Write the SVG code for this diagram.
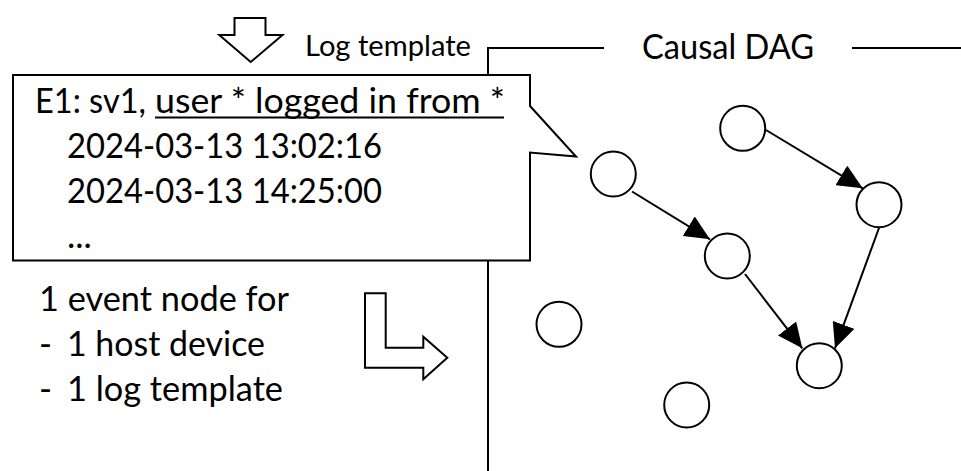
<svg xmlns="http://www.w3.org/2000/svg" width="961" height="471" viewBox="0 0 961 471">
<style>
text { font-family: Lato, "Open Sans", "Liberation Sans", sans-serif; fill: #000; }
.big { font-size: 35px; }
.small { font-size: 29.5px; }
.ln { stroke: #000; stroke-width: 2; fill: none; }
.shape { stroke: #000; stroke-width: 2; fill: #fff; stroke-linejoin: miter; }
.node { stroke: #000; stroke-width: 2; fill: #fff; }
.edge { stroke: #000; stroke-width: 2; fill: none; marker-end: url(#ah); }
</style>
<defs>
<marker id="ah" markerUnits="userSpaceOnUse" markerWidth="25" markerHeight="23" refX="25" refY="11.5" orient="auto" viewBox="0 0 25 23">
<path d="M0,0 L25,11.5 L0,23 Z" fill="#000"/>
</marker>
</defs>
<rect width="961" height="471" fill="#fff"/>

<g id="dag-frame">
<path class="ln" d="M488,471 V48 H604"/>
<line class="ln" x1="852" y1="48" x2="961" y2="48"/>
<text class="big" x="642" y="58.5" textLength="172" lengthAdjust="spacingAndGlyphs">Causal DAG</text>
</g>

<g id="down-arrow">
<path class="shape" d="M234.5,18 H265.5 V35 H282.5 L250.7,62 L219.3,35 H234.5 Z"/>
</g>

<g id="log-template-label">
<text class="small" x="305" y="56" textLength="166" lengthAdjust="spacingAndGlyphs">Log template</text>
</g>

<g id="log-callout">
<path class="shape" d="M13,75 H530 V106 L576,156.5 L530,152.5 V260.5 H13 Z"/>
<text class="big" x="35" y="113" textLength="111" lengthAdjust="spacingAndGlyphs">E1: sv1,</text>
<text class="big" x="155" y="113" textLength="350" lengthAdjust="spacingAndGlyphs">user * logged in from *</text>
<line x1="155" y1="117.5" x2="504" y2="117.5" stroke="#000" stroke-width="2"/>
<text class="big" x="67" y="158" textLength="315" lengthAdjust="spacingAndGlyphs">2024-03-13 13:02:16</text>
<text class="big" x="67" y="203" textLength="315" lengthAdjust="spacingAndGlyphs">2024-03-13 14:25:00</text>
<text class="big" x="67" y="248">...</text>
</g>

<g id="event-node-note">
<text class="big" x="39" y="311" textLength="250" lengthAdjust="spacingAndGlyphs">1 event node for</text>
<text class="big" x="39" y="356">-</text>
<text class="big" x="67" y="356" textLength="198" lengthAdjust="spacingAndGlyphs">1 host device</text>
<text class="big" x="39" y="401">-</text>
<text class="big" x="67" y="401" textLength="216" lengthAdjust="spacingAndGlyphs">1 log template</text>
</g>

<g id="bent-arrow">
<path class="shape" d="M365,293.3 H385.7 V347.7 H423.3 V336.7 L447.3,357.7 L423.3,379.3 V367.7 H365 Z"/>
</g>

<g id="connectors">
<line class="edge" x1="766" y1="130" x2="862.7" y2="188.3"/>
<line class="edge" x1="632" y1="191.5" x2="710" y2="239.3"/>
<line class="edge" x1="745" y1="274" x2="802.3" y2="348.3"/>
<line class="edge" x1="879" y1="228" x2="835" y2="348.3"/>
</g>

<g id="n1"><circle class="node" cx="742.7" cy="128.3" r="22.5"/></g>
<g id="n2"><circle class="node" cx="613.3" cy="174" r="22.5"/></g>
<g id="n3"><circle class="node" cx="879" cy="204.7" r="22.5"/></g>
<g id="n4"><circle class="node" cx="727.3" cy="256" r="22.5"/></g>
<g id="n5"><circle class="node" cx="559" cy="324.3" r="22.5"/></g>
<g id="n6"><circle class="node" cx="819.3" cy="365.7" r="22.5"/></g>
<g id="n7"><circle class="node" cx="686.7" cy="405" r="22.5"/></g>
</svg>
